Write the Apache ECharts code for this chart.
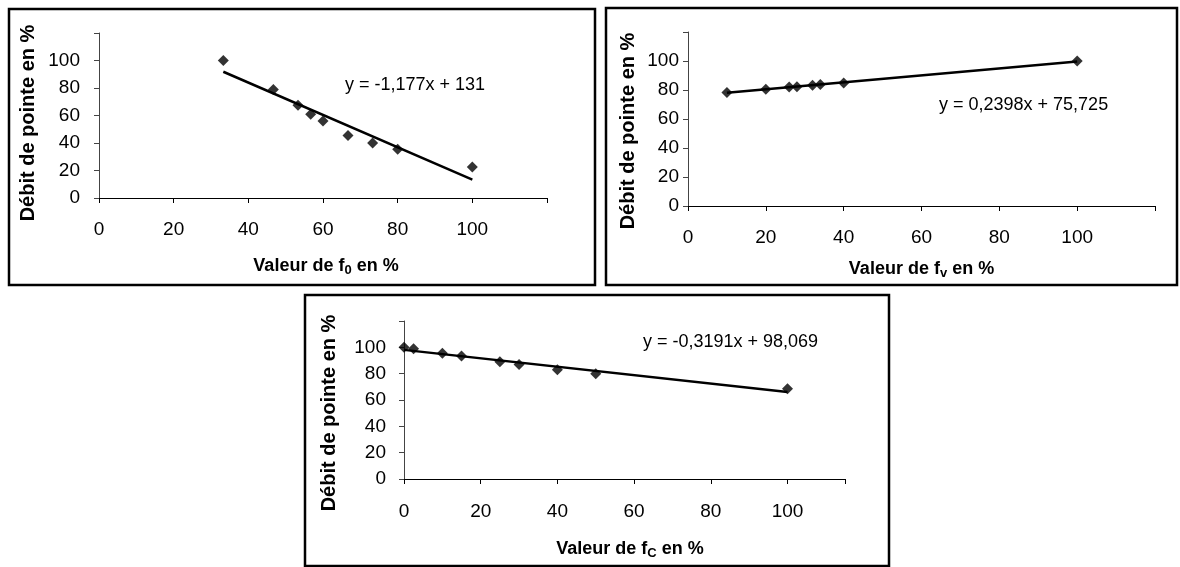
<!DOCTYPE html>
<html><head><meta charset="utf-8">
<script src="https://cdn.jsdelivr.net/npm/echarts@6/dist/echarts.min.js"></script>
<style>html,body{margin:0;padding:0;background:#fff}#c{width:1180px;height:567px}</style>
</head><body><div id="c"></div>
<script>
// ---- data ----
const f0X = [33.3, 46.7, 53.3, 56.7, 60, 66.7, 73.3, 80, 100];
const f0Y = [100, 79, 67.5, 61, 56, 45.5, 40, 35.5, 22.5];
const fvX = [10, 20, 26, 28, 32, 34, 40, 100];
const fvY = [78.3, 80.5, 82, 82.3, 83.3, 83.8, 84.8, 100];
const fcX = [0, 2.5, 10, 15, 25, 30, 40, 50, 100];
const fcY = [100, 99, 95.5, 93.5, 89, 87, 83, 80, 68.5];
const trendSlope = [-1.177, 0.2398, -0.3191];
const trendIntercept = [131, 75.725, 98.069];
const equations = ['y = -1,177x + 131', 'y = 0,2398x + 75,725', 'y = -0,3191x + 98,069'];
const xTitles = ['Valeur de f{s|0} en %', 'Valeur de f{s|v} en %', 'Valeur de f{s|C} en %'];
const yTitle = 'Débit de pointe en %';
const tickStep = 20;
const yMax = [120, 120, 120];
const xMax = [120, 120, 115];
const lastLabel = 100;

const xs = [f0X, fvX, fcX], ys = [f0Y, fvY, fcY];
const FONT = '"Liberation Sans", Arial, sans-serif';

// ---- layout ----
const grids = [
  {left: 99, top: 33, width: 448, height: 165},
  {left: 688, top: 32, width: 467, height: 174},
  {left: 404, top: 321, width: 441, height: 158}
];
const yLabelMargin = [19, 9, 18];
const xLabelMargin = [22, 22, 23];
const yNameGap = [61, 50, 65];
const xNameGap = [57, 52, 59];
const yNameShift = [15, 24, 26];
const xNameShift = [6, 0, 11];
const frames = [
  {x: 9, y: 9, width: 586, height: 276},
  {x: 606, y: 8, width: 571, height: 277},
  {x: 305, y: 295, width: 584, height: 271}
];
const eqPos = [[345, 85], [939, 105], [643, 342]];

const chart = echarts.init(document.getElementById('c'), null, {renderer: 'canvas'});

const xAxis = [], yAxis = [], series = [];
for (let i = 0; i < 3; i++) {
  xAxis.push({
    type: 'value', gridIndex: i, min: 0, max: xMax[i], interval: tickStep,
    axisLine: {show: true, lineStyle: {color: '#000', width: 1}},
    axisTick: {show: true, inside: false, length: 5, lineStyle: {color: '#000'}},
    splitLine: {show: false},
    axisLabel: {color: '#000', fontFamily: FONT, fontSize: 19, margin: xLabelMargin[i],
      formatter: v => (v > lastLabel ? '' : String(v))},
    name: xTitles[i], nameLocation: 'middle', nameGap: xNameGap[i],
    nameTextStyle: {color: '#000', fontFamily: FONT, fontSize: 18, fontWeight: 'bold',
      padding: [0, 0, 0, xNameShift[i]],
      rich: {s: {fontFamily: FONT, fontSize: 13, fontWeight: 'bold', color: '#000', padding: [9, 0, 0, 0]}}}
  });
  yAxis.push({
    type: 'value', gridIndex: i, min: 0, max: yMax[i], interval: tickStep,
    axisLine: {show: true, lineStyle: {color: '#444', width: 1}},
    axisTick: {show: true, inside: false, length: 5, lineStyle: {color: '#444'}},
    splitLine: {show: false},
    axisLabel: {color: '#000', fontFamily: FONT, fontSize: 19, margin: yLabelMargin[i],
      formatter: v => (v > lastLabel ? '' : String(v))},
    name: yTitle, nameLocation: 'middle', nameGap: yNameGap[i], nameRotate: 90,
    nameTextStyle: {color: '#000', fontFamily: FONT, fontSize: 20, fontWeight: 'bold',
      padding: [0, yNameShift[i], 0, 0]}
  });
  const xmin = Math.min.apply(null, xs[i]), xmax = Math.max.apply(null, xs[i]);
  series.push({
    type: 'line', xAxisIndex: i, yAxisIndex: i, symbol: 'none', silent: true, z: 2,
    lineStyle: {color: '#000', width: 2.5},
    data: [[xmin, trendSlope[i] * xmin + trendIntercept[i]], [xmax, trendSlope[i] * xmax + trendIntercept[i]]]
  });
  series.push({
    type: 'scatter', xAxisIndex: i, yAxisIndex: i, symbol: 'diamond', symbolSize: 11, z: 3,
    itemStyle: {color: '#000'},
    data: xs[i].map((x, k) => [x, ys[i][k]])
  });
}

const graphic = [];
frames.forEach(f => graphic.push({type: 'rect', shape: f, silent: true, z: 0,
  style: {fill: 'none', stroke: '#000', lineWidth: 2.5}}));
equations.forEach((t, i) => graphic.push({type: 'text', x: eqPos[i][0], y: eqPos[i][1], z: 10,
  style: {text: t, fill: '#000', font: '18px ' + FONT, textVerticalAlign: 'middle', verticalAlign: 'middle'}}));

chart.setOption({
  animation: false,
  backgroundColor: '#fff',
  grid: grids.map(g => Object.assign({containLabel: false}, g)),
  xAxis, yAxis, series, graphic
});
</script></body></html>
